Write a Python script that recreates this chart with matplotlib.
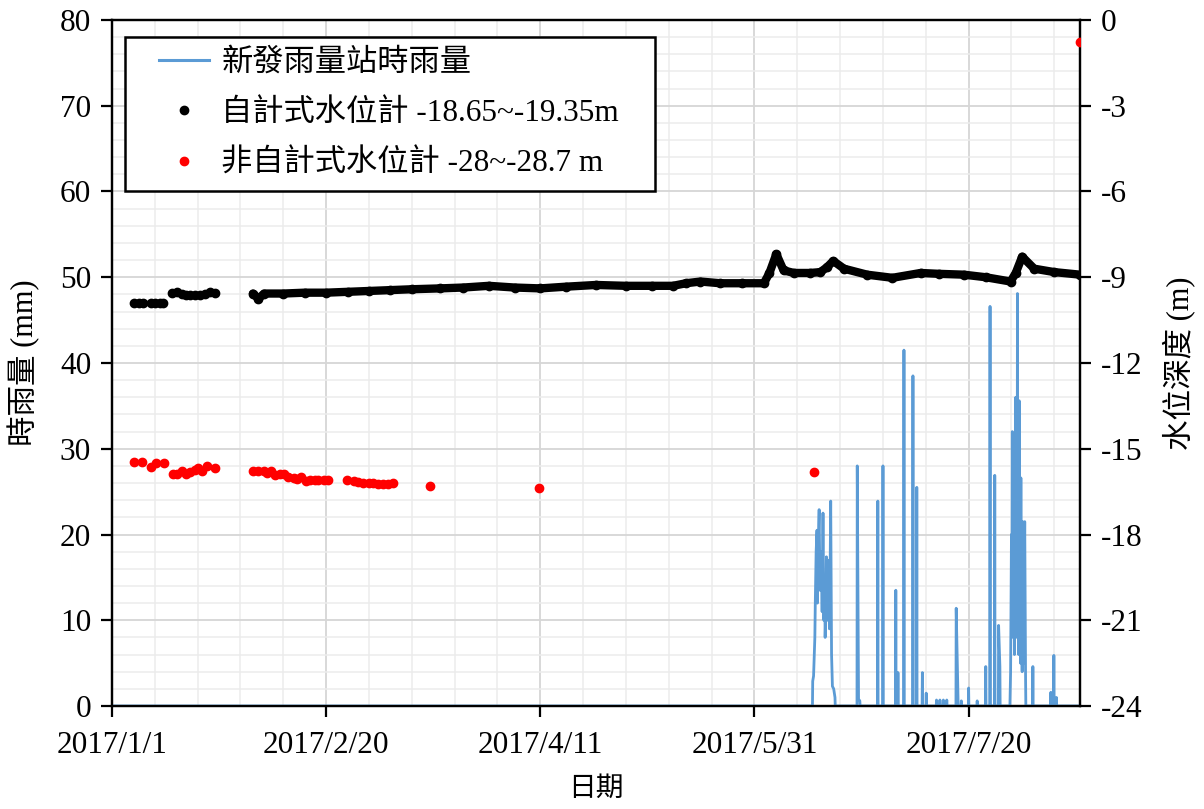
import numpy as np
import pandas as pd
import matplotlib
matplotlib.use("Agg")
import matplotlib.pyplot as plt
from matplotlib.lines import Line2D
from matplotlib.legend_handler import HandlerLine2D

plt.rcParams['font.family'] = ['Liberation Serif', 'Noto Sans CJK TC']
plt.rcParams['axes.unicode_minus'] = False

# ---- time axis -------------------------------------------------------------
START = pd.Timestamp('2017-01-01')
END = pd.Timestamp('2017-08-15')
tick_labels = ['2017/1/1', '2017/2/20', '2017/4/11', '2017/5/31', '2017/7/20']

# ---- hourly rainfall, 新發 station (day offset from 2017/1/1, mm) ---------
rain_day = [163.6, 163.8, 163.9, 164.1, 164.2, 164.4, 164.6, 164.7, 164.8, 165.0,
            165.1, 165.3, 165.4, 165.6, 165.8, 166.0, 166.2, 166.4, 166.5, 166.7,
            166.8, 167.0, 167.1, 167.3, 167.5, 167.6, 167.8, 168.0, 168.2, 168.5,
            168.8,
            174.0, 174.3, 174.6, 178.8, 180.0, 183.0, 183.5, 184.9, 187.0, 187.9,
            189.2, 190.1, 192.5, 193.3, 194.1, 194.9, 197.1, 197.5, 198.3, 200.0,
            202.0, 204.0, 205.0, 206.1, 207.0, 207.3,
            209.7, 209.8, 210.0, 210.1, 210.2, 210.3, 210.4, 210.5, 210.6, 210.7,
            210.8, 210.9, 211.0, 211.1, 211.2, 211.3, 211.4, 211.5, 211.6, 211.7,
            211.8, 211.9, 212.0, 212.1, 212.2, 212.3, 212.4, 212.5, 212.6, 212.8,
            213.1, 213.3,
            215.0, 219.2, 219.9, 220.5]
rain_mm = [2.9, 3.5, 5.0, 8.0, 12.0, 18.0, 20.5, 12.0, 15.0, 21.0,
           22.9, 13.5, 16.0, 18.0, 11.0, 22.5, 10.0, 14.0, 8.0, 12.0,
           17.4, 14.0, 10.0, 17.0, 9.0, 12.0, 23.9, 6.0, 2.3, 2.0,
           1.0,
           28.0, 0.8, 0.6, 23.9, 28.0, 13.5, 3.9, 41.5, 38.5, 25.5,
           3.9, 1.5, 0.7, 0.7, 0.7, 0.7, 11.4, 1.0, 0.6, 2.1,
           0.6, 4.6, 46.6, 26.9, 9.4, 4.6,
           1.5, 4.0, 20.0, 8.0, 32.0, 12.0, 25.0, 10.0, 31.0, 6.0,
           18.0, 9.0, 36.0, 14.0, 22.0, 8.0, 48.1, 12.0, 30.0, 6.0,
           35.6, 10.0, 15.0, 5.0, 26.6, 8.0, 10.0, 4.0, 21.5, 5.0,
           21.5, 3.0,
           4.6, 1.6, 5.9, 1.0]

# ---- logger well (自計式, -18.65~-19.35 m screen), depth in m ---------------
auto_day = [5.2, 6.4, 7.3, 9.1, 10.0, 11.1, 12.0,
            13.9, 15.1, 16.3, 17.3, 18.2, 19.4, 20.6, 21.7, 22.9, 24.1,
            32.9, 34.2, 35.5, 40, 45, 50, 55, 60, 65, 70, 76.6, 82, 88, 94, 100,
            106, 113, 120, 126, 131, 134, 137.4, 142, 147, 152.2, 153.5, 155.1,
            156.8, 159.2, 163, 165.4, 167, 168.4, 170.9, 176.3, 182.2, 188.8,
            193, 198.9, 204, 209.8, 211, 212.5, 215.3, 220, 226]
auto_depth = [-9.90, -9.90, -9.90, -9.90, -9.90, -9.90, -9.90,
              -9.54, -9.51, -9.57, -9.63, -9.63, -9.63, -9.63, -9.57, -9.51, -9.54,
              -9.57, -9.75, -9.57, -9.57, -9.54, -9.54, -9.51, -9.48, -9.45, -9.42,
              -9.39, -9.36, -9.30, -9.36, -9.39, -9.33, -9.27, -9.30, -9.30, -9.30,
              -9.21, -9.15, -9.21, -9.21, -9.21, -8.85, -8.19, -8.76, -8.85, -8.85,
              -8.82, -8.64, -8.43, -8.70, -8.91, -9.02, -8.85, -8.88, -8.91, -9.00,
              -9.15, -8.85, -8.28, -8.70, -8.82, -8.91]
AUTO_CONTINUOUS_FROM = 32.0  # logger records hourly from here on

# ---- manual well (非自計式, -28~-28.7 m screen), depth in m ----------------
man_day = [5.2, 7.1, 9.1, 10.3, 12.1, 14.3, 15.1, 16.3, 17.3, 18.2, 19.4, 20.2,
           21.0, 22.3, 24.1, 33.0, 34.2, 35.4, 36.1, 37.1, 38.1, 39.3, 40.2, 41.2,
           42.4, 43.1, 44.2, 45.2, 46.3, 47.4, 48.2, 49.4, 50.5, 54.8, 56.4, 57.5,
           58.7, 59.9, 61.0, 62.2, 63.3, 64.5, 65.7, 74.3, 99.8, 163.8, 226.0]
man_depth = [-15.48, -15.45, -15.63, -15.51, -15.51, -15.87, -15.87, -15.78,
             -15.87, -15.81, -15.75, -15.66, -15.78, -15.60, -15.66, -15.78,
             -15.78, -15.78, -15.84, -15.78, -15.93, -15.87, -15.87, -15.99,
             -16.02, -16.05, -15.99, -16.14, -16.08, -16.08, -16.11, -16.11,
             -16.11, -16.11, -16.14, -16.17, -16.20, -16.20, -16.20, -16.23,
             -16.23, -16.23, -16.20, -16.29, -16.38, -15.81, -0.78]


def spike_line(day, val, gap=0.45, half=0.06):
    """Hourly rainfall as a polyline that drops back to zero between events."""
    xs, ys = [0.0], [0.0]
    for i, (d, v) in enumerate(zip(day, val)):
        if i == 0 or d - day[i - 1] > gap:
            xs.append(d - half); ys.append(0.0)
        xs.append(d); ys.append(v)
        if i == len(day) - 1 or day[i + 1] - d > gap:
            xs.append(d + half); ys.append(0.0)
    xs.append((END - START).days); ys.append(0.0)
    return xs, ys


fig = plt.figure(figsize=(12.04, 8.09), dpi=100)
ax = fig.add_axes([0.093, 0.1273, 0.804, 0.848])
ax2 = ax.twinx()

x_max = (END - START).days
tick_days = [(pd.to_datetime(s, format='%Y/%m/%d') - START).days for s in tick_labels]

# grid lives on the rainfall axis so it stays under everything
ax.set_xlim(0, x_max)
ax.set_ylim(0, 80)
ax.set_xticks(tick_days)
ax.set_xticklabels(tick_labels)
ax.set_xticks(np.arange(0, x_max + 1, 10), minor=True)
ax.set_yticks(np.arange(0, 81, 10))
ax.set_yticks(np.arange(0, 81, 2), minor=True)
ax.grid(which='minor', color='#ececec', lw=1.1, zorder=0)
ax.grid(which='major', color='#d6d6d6', lw=1.3, zorder=0)
ax.set_axisbelow(True)

rx, ry = spike_line(rain_day, rain_mm)
ax.plot(rx, ry, color='#5B9BD5', lw=2.0, zorder=3)

ax2.set_ylim(-24, 0)
ax2.set_yticks(np.arange(-24, 1, 3))
ax2.set_xlim(0, x_max)

auto_day_arr = np.array(auto_day)
auto_depth_arr = np.array(auto_depth)
cont = auto_day_arr >= AUTO_CONTINUOUS_FROM
ax2.plot(auto_day_arr[cont], auto_depth_arr[cont], color='black', lw=6,
         solid_capstyle='round', solid_joinstyle='round', zorder=4)
ax2.plot(auto_day_arr, auto_depth_arr, 'o', color='black', ms=6, zorder=4)
ax2.plot(man_day, man_depth, 'o', color='#ff0000', ms=6, zorder=4)

for a in (ax, ax2):
    for s in a.spines.values():
        s.set_linewidth(1.6)
        s.set_color('black')
    a.tick_params(which='major', direction='out', length=8, width=1.6,
                  labelsize=22.5, colors='black', pad=7)
    a.tick_params(which='minor', length=0)
ax.tick_params(axis='x', pad=10)

ax.set_ylabel('時雨量 (mm)', fontsize=22, labelpad=14)
ax2.set_ylabel('水位深度 (m)', fontsize=22, rotation=90, labelpad=14)
ax.set_xlabel('日期', fontsize=20, labelpad=12)

handles = [
    Line2D([], [], color='#5B9BD5', lw=2.2),
    Line2D([], [], ls='none', marker='o', color='black', ms=6),
    Line2D([], [], ls='none', marker='o', color='#ff0000', ms=6),
]
labels = ['新發雨量站時雨量', '自計式水位計 -18.65~-19.35m', '非自計式水位計 -28~-28.7 m']
shift = HandlerLine2D(xpad=0.72)
leg = ax2.legend(handles, labels, loc='upper left',
                 bbox_to_anchor=(0.0134, 0.753, 0.5475, 0.222), mode='expand',
                 fontsize=22.5, frameon=True, fancybox=False, edgecolor='black',
                 framealpha=1, handlelength=2.32, labelspacing=0.68,
                 borderpad=0.38, handletextpad=0.38, borderaxespad=0,
                 handler_map={h: shift for h in handles})
leg.get_frame().set_linewidth(1.8)

fig.savefig('out.png', dpi=100)
